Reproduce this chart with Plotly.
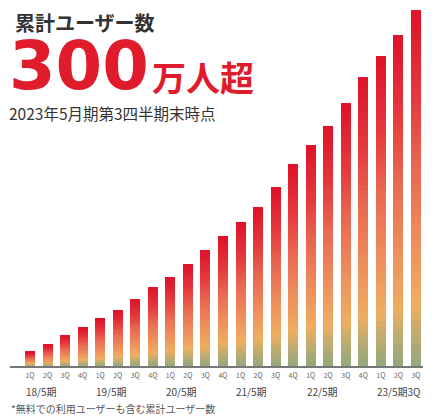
import plotly.graph_objects as go
from plotly.colors import sample_colorscale

# ---- data ----
quarters = ["1Q", "2Q", "3Q", "4Q", "1Q", "2Q", "3Q", "4Q", "1Q", "2Q", "3Q", "4Q",
            "1Q", "2Q", "3Q", "4Q", "1Q", "2Q", "3Q", "4Q", "1Q", "2Q", "3Q"]
users_man = [12, 18, 26, 33, 41, 48, 57, 68, 76, 87, 99, 111,
             123, 136, 153, 173, 189, 206, 225, 248, 266, 284, 305]
fiscal_years = ["18/5期", "19/5期", "20/5期", "21/5期", "22/5期", "23/5期3Q"]
title_text = "累計ユーザー数"
big_number = "300"
big_unit = "万人超"
subtitle = "2023年5月期第3四半期末時点"
footnote = "*無料での利用ユーザーも含む累計ユーザー数"

# ---- styling ----
W, H = 432, 416
ML, MR, MT, MB = 10, 9, 5, 50
PW, PH = W - ML - MR, H - MT - MB
CJK = "Noto Sans CJK JP"
RED = "#e01b2c"

grad = [[0.0, "#93a77f"], [0.07, "#b3ab74"], [0.17, "#eeae60"], [0.35, "#ee8e5c"],
        [0.55, "#e96a52"], [0.75, "#e43a3e"], [1.0, "#df1129"]]
NSEG = 48
seg_colors = sample_colorscale(grad, [(k + 0.5) / NSEG for k in range(NSEG)])

x_idx = list(range(len(users_man)))
fig = go.Figure()
for k in range(NSEG):
    fig.add_trace(go.Bar(
        x=x_idx, y=[v / NSEG for v in users_man],
        marker=dict(color=seg_colors[k], line=dict(width=0)),
        hoverinfo="skip", showlegend=False,
    ))

def px_x(p):
    return (p - ML) / PW

def px_y(p):
    return (H - MB - p) / PH

ann = []
ann.append(dict(text=title_text, x=px_x(13), y=px_y(23), xanchor="left", yanchor="middle",
                font=dict(family=CJK, size=20, color="#333333", weight="bold")))
ann.append(dict(text=big_number, x=px_x(7), y=px_y(66), xanchor="left", yanchor="middle",
                font=dict(family="DejaVu Sans", size=67, color=RED, weight="bold")))
ann.append(dict(text=big_unit, x=px_x(150), y=px_y(76), xanchor="left", yanchor="middle",
                font=dict(family=CJK, size=34, color=RED, weight="bold")))
ann.append(dict(text=subtitle, x=px_x(7), y=px_y(113), xanchor="left", yanchor="middle",
                font=dict(family=CJK, size=15.5, color="#333333")))
ann.append(dict(text=footnote, x=px_x(9), y=px_y(408), xanchor="left", yanchor="middle",
                font=dict(family=CJK, size=10, color="#555555")))
for i, fy in enumerate(fiscal_years):
    ann.append(dict(text=fy, x=i * 4 - 0.35, xref="x", y=px_y(391), xanchor="left",
                    yanchor="middle", font=dict(family=CJK, size=10, color="#444444")))
for a in ann:
    a.setdefault("xref", "paper")
    a["yref"] = "paper"
    a["showarrow"] = False

fig.update_layout(
    width=W, height=H, barmode="stack", bargap=0.43,
    margin=dict(l=ML, r=MR, t=MT, b=MB),
    paper_bgcolor="white", plot_bgcolor="white",
    xaxis=dict(range=[-1.14, 22.4], tickmode="array", tickvals=x_idx, ticktext=quarters,
               tickfont=dict(family=CJK, size=7, color="#666666"), ticks="",
               ticklabelstandoff=2,
               showline=True, linecolor="#777777", linewidth=1.5, showgrid=False,
               zeroline=False, fixedrange=True),
    yaxis=dict(range=[0, 309.3], visible=False, fixedrange=True),
    annotations=ann,
)
fig.write_html("out.html", config={"displayModeBar": False},
               post_script="document.body.style.margin='0';document.body.style.overflow='hidden';")
